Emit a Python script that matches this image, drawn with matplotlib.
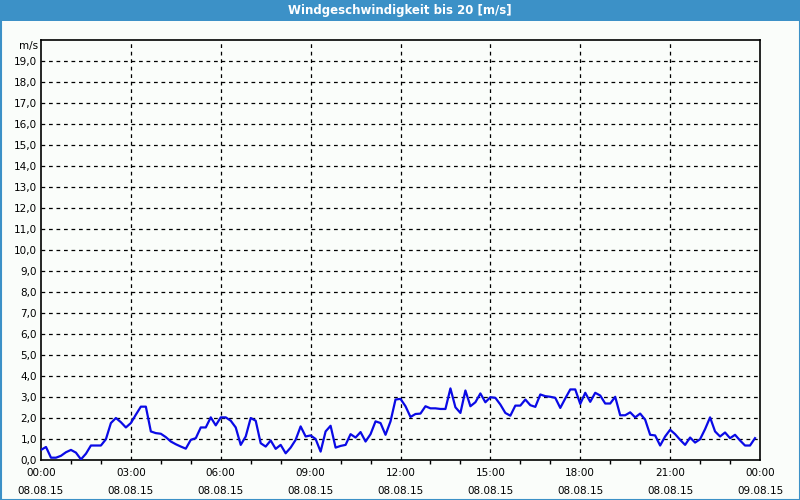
import matplotlib
matplotlib.use("Agg")
import matplotlib.pyplot as plt
from matplotlib.patches import Rectangle
import numpy as np

title = "Windgeschwindigkeit bis 20 [m/s]"
unit_label = "m/s"
# wind speed every 10 minutes, 08.08.15 00:00 .. 23:50
speed = [
    0.48, 0.62, 0.11, 0.11, 0.20, 0.37, 0.48, 0.35, 0.03, 0.30, 0.69, 0.69,
    0.69, 0.99, 1.76, 2.00, 1.80, 1.55, 1.76, 2.16, 2.54, 2.54, 1.36, 1.28,
    1.25, 1.09, 0.88, 0.75, 0.64, 0.54, 0.96, 1.04, 1.55, 1.55, 2.03, 1.65,
    2.03, 2.03, 1.87, 1.55, 0.72, 1.12, 2.00, 1.87, 0.80, 0.64, 0.93, 0.53,
    0.72, 0.32, 0.59, 0.96, 1.60, 1.12, 1.17, 1.00, 0.40, 1.36, 1.63, 0.59,
    0.67, 0.72, 1.23, 1.07, 1.33, 0.88, 1.23, 1.84, 1.76, 1.20, 1.84, 2.88,
    2.91, 2.56, 2.05, 2.19, 2.21, 2.56, 2.46, 2.46, 2.43, 2.43, 3.41, 2.51,
    2.24, 3.31, 2.56, 2.75, 3.17, 2.75, 2.99, 2.96, 2.64, 2.24, 2.11, 2.59,
    2.59, 2.88, 2.61, 2.53, 3.12, 3.04, 3.01, 2.96, 2.48, 2.93, 3.36, 3.36,
    2.67, 3.20, 2.77, 3.20, 3.07, 2.69, 2.69, 3.01, 2.13, 2.13, 2.27, 2.03,
    2.21, 1.92, 1.20, 1.17, 0.69, 1.12, 1.44, 1.23, 0.96, 0.72, 1.07, 0.83,
    0.99, 1.47, 2.03, 1.36, 1.12, 1.31, 1.04, 1.20, 0.93, 0.69, 0.69, 1.04,
]
hours = [i / 6.0 for i in range(len(speed))]
x_tick_hours = [0, 3, 6, 9, 12, 15, 18, 21, 24]
x_tick_labels = ["00:00\n08.08.15", "03:00\n08.08.15", "06:00\n08.08.15",
                 "09:00\n08.08.15", "12:00\n08.08.15", "15:00\n08.08.15",
                 "18:00\n08.08.15", "21:00\n08.08.15", "00:00\n09.08.15"]
y_ticks = list(range(0, 20))
y_tick_labels = [f"{v},0" for v in range(0, 20)]

plt.rcParams['font.family'] = ['DejaVu Sans']
bg = "#FAFDFA"
blue_bar = "#3C91C7"

fig = plt.figure(figsize=(8, 5), dpi=100, facecolor=bg)
# title bar and border
fig.patches.append(Rectangle((0, 1 - 21 / 500), 1, 21 / 500, transform=fig.transFigure,
                             facecolor=blue_bar, edgecolor="none", zorder=0))
fig.patches.append(Rectangle((0.5 / 800, 0.5 / 500), 1 - 1 / 800, 1 - 1 / 500,
                             transform=fig.transFigure, facecolor="none",
                             edgecolor=blue_bar, linewidth=1.5, zorder=0))
fig.text(0.5, 1 - 10.5 / 500, title, color="white", ha="center", va="center",
         fontsize=8.5, fontweight="bold")

ax = fig.add_axes([41 / 800, 40 / 500, 719 / 800, 420 / 500])
ax.set_facecolor(bg)
ax.plot(hours, speed, color="#0A0AE6", linewidth=1.6, zorder=3)
ax.set_xlim(0, 24)
ax.set_ylim(0, 20)

ax.set_yticks(y_ticks)
ax.set_yticklabels(y_tick_labels, fontsize=7.5)
ax.set_xticks(x_tick_hours)
ax.set_xticklabels(x_tick_labels, fontsize=7.5, linespacing=1.9)
ax.set_xticks(range(0, 25), minor=True)
ax.tick_params(axis="both", which="both", direction="out", length=3, width=1,
               color="black", labelcolor="black")
ax.tick_params(axis="x", which="major", length=0, pad=6)
ax.tick_params(axis="y", which="major", length=0, pad=3)

# unit label at the top of the y axis
ax.text(-3 / 719, 19.72, unit_label, transform=ax.get_yaxis_transform(),
        ha="right", va="center", fontsize=7.5)

for v in range(1, 20):
    ax.axhline(v, color="black", linestyle=(0, (3, 3)), linewidth=0.9, zorder=1)
for h in x_tick_hours[1:-1]:
    ax.axvline(h, color="black", linestyle=(0, (3, 3)), linewidth=0.9, zorder=1)

for s in ax.spines.values():
    s.set_color("black")
    s.set_linewidth(1.2)

fig.savefig("out.png", dpi=100, facecolor=bg)
